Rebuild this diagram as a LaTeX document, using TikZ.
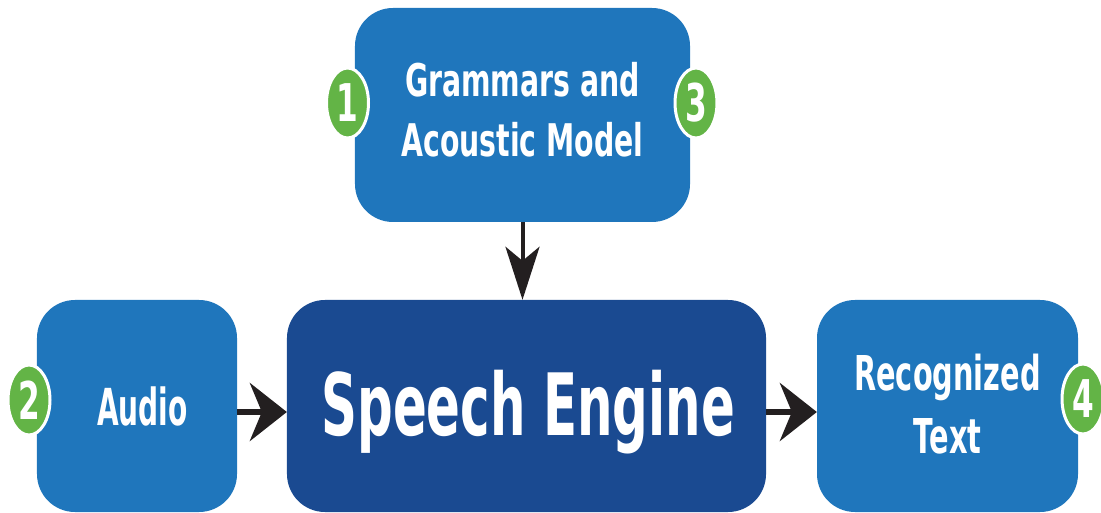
\documentclass[tikz,border=0pt]{standalone}
\usepackage{fontspec}
\setmainfont{DejaVu Sans}
\usetikzlibrary{arrows.meta}
\definecolor{boxblue}{HTML}{1F76BC}
\definecolor{engblue}{HTML}{1A4A91}
\definecolor{badgegreen}{HTML}{63B446}
\definecolor{arrowdark}{HTML}{231F20}
\begin{document}
\begin{tikzpicture}[x=1pt,y=1pt,
  blockbox/.style={rectangle, rounded corners=38pt, inner sep=0pt, text=white, align=center},
  badge/.style={circle, fill=badgegreen, draw=white, line width=3pt, minimum size=70pt,
    inner sep=0pt, xscale=0.6, text=white, font=\bfseries\fontsize{52}{52}\selectfont},
  conn/.style={draw=arrowdark, fill=arrowdark}]
\useasboundingbox (0,0) rectangle (1101,512);
% boxes
\node[blockbox, fill=boxblue, xscale=0.63, minimum width=335pt/0.63, minimum height=214pt,
  font=\bfseries\fontsize{45}{60}\selectfont, text depth=12pt] (gram) at (522.5,397)
  {Grammars and\\Acoustic Model};
\node[blockbox, fill=boxblue, xscale=0.55, minimum width=200pt/0.55, minimum height=212pt,
  font=\bfseries\fontsize{51}{60}\selectfont] (audio) at (137,106) {\hspace*{20pt}Audio};
\node[blockbox, fill=engblue, xscale=0.58, minimum width=479pt/0.58, minimum height=212pt,
  font=\bfseries\fontsize{86}{100}\selectfont, text height=78pt, text depth=20pt] (eng) at (526.5,106)
  {\hspace*{6pt}Speech Engine};
\node[blockbox, fill=boxblue, xscale=0.6, minimum width=261pt/0.6, minimum height=212pt,
  font=\bfseries\fontsize{48}{63}\selectfont, text depth=5pt] (rec) at (947.5,106)
  {Recognized\\Text};
% badges
\node[badge] (b1) at (347.5,409) {1};
\node[badge] (b3) at (696,409) {3};
\node[badge] (b2) at (29,112) {2};
\node[badge] (b4) at (1083,113) {4};
% connectors
\draw[conn, line width=4pt, -{Stealth[length=53pt,width=34pt,inset=14pt]}]
  (gram.south) -- (gram.south |- eng.north);
\draw[conn, line width=6pt, -{Stealth[length=37pt,width=58pt,inset=12pt]}]
  ([yshift=-6pt]audio.east) -- ([yshift=-6pt]eng.west);
\draw[conn, line width=6pt, -{Stealth[length=37pt,width=58pt,inset=12pt]}]
  ([yshift=-6pt]eng.east) -- ([yshift=-6pt]rec.west);
\end{tikzpicture}
\end{document}
